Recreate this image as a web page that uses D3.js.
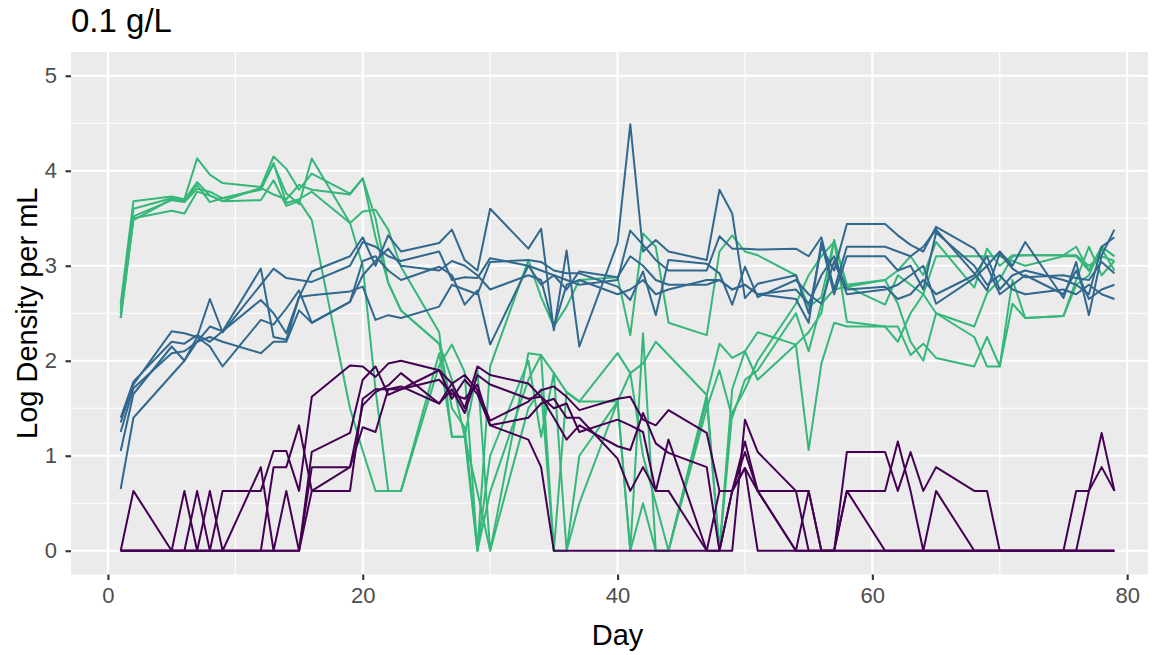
<!DOCTYPE html>
<html>
<head>
<meta charset="utf-8">
<script src="https://cdn.jsdelivr.net/npm/d3@7"></script>
<style>
  body { margin: 0; background: #ffffff; }
  text { font-family: "Liberation Sans", Arial, Helvetica, sans-serif; }
</style>
</head>
<body>
<div id="chart-area"></div>
<script>
// sampling days (weekdays)
var days = [1, 2, 5, 6, 7, 8, 9, 12, 13, 14, 15, 16, 19, 20, 21, 22, 23, 26, 27, 28, 29, 30,
            33, 34, 35, 36, 37, 40, 41, 42, 43, 44, 47, 48, 49, 50, 51, 54, 55, 56, 57, 58,
            61, 62, 63, 64, 65, 68, 69, 70, 71, 72, 75, 76, 77, 78, 79];

// green replicates
var green1 = [2.45, 3.50, 3.58, 3.55, 3.78, 3.74, 3.68, 3.69, 3.90, 3.63, 3.68, 3.48, 1.50, 1.05, 0.63, 0.63, 0.63,
              1.95, 2.17, 1.88, 0, 1.94, 3.06, 2.67, 2.36, 2.57, 2.85, 2.88, 2.27, 3.34, 3.20, 2.40, 2.27, 3.15,
              3.32, 3.15, 3.11, 2.90, 2.57, 2.67, 3.27, 2.78, 2.59, 2.90, 2.80, 2.70, 3.10, 3.10, 3.10, 3.10,
              3.05, 3.00, 3.10, 3.10, 2.95, 3.20, 3.10];
var green2 = [2.55, 3.52, 3.69, 3.67, 3.81, 3.78, 3.71, 3.80, 4.08, 3.66, 3.70, 3.78, 3.45, 3.00, 1.70, 0.63, 0.63,
              2.08, 1.20, 1.20, 0, 0.62, 1.80, 2.06, 1.87, 1.67, 1.57, 2.08, 1.87, 1.97, 2.20, 2.06, 1.64, 2.18,
              2.03, 2.10, 1.80, 2.17, 1.06, 1.97, 2.40, 2.36, 2.36, 2.36, 2.06, 2.18, 2.03, 1.94, 2.25, 1.94,
              2.85, 2.45, 2.47, 2.80, 2.90, 3.20, 3.10];
var green3 = [2.60, 3.68, 3.73, 3.70, 4.13, 3.96, 3.87, 3.83, 4.15, 4.02, 3.80, 3.97, 3.76, 3.92, 3.30, 2.82, 2.53,
              2.18, 1.80, 1.20, 0.62, 0, 1.50, 1.70, 0, 1.67, 1.57, 1.57, 0, 2.29, 0, 0, 1.59, 0,
              1.45, 1.70, 2.00, 2.60, 2.90, 3.10, 3.25, 2.80, 2.85, 2.95, 3.10, 2.90, 3.25, 2.77, 3.18, 3.00,
              3.11, 3.11, 3.11, 3.20, 2.95, 3.18, 2.95];
var green4 = [2.50, 3.60, 3.71, 3.68, 3.85, 3.67, 3.71, 3.81, 4.07, 3.76, 3.65, 4.13, 3.45, 3.57, 3.59, 3.38, 2.99,
              2.30, 1.20, 1.20, 1.90, 0, 2.08, 2.06, 0, 0, 1.00, 1.57, 0, 0.50, 0, 0, 1.64, 0,
              1.70, 2.10, 2.30, 2.17, 2.30, 2.50, 3.27, 2.41, 2.36, 2.20, 2.50, 2.70, 2.50, 2.36, 2.71, 2.85,
              3.10, 3.11, 3.11, 3.11, 3.00, 3.10, 3.05];
var green5 = [2.45, 3.48, 3.70, 3.69, 3.88, 3.74, 3.68, 3.82, 3.75, 3.70, 3.85, 3.80, 3.75, 3.92, 3.50, 2.82, 2.53,
              2.18, 1.50, 1.30, 0, 1.00, 2.00, 1.20, 1.87, 0, 0.50, 1.57, 1.87, 1.00, 0.50, 0, 1.50, 1.90,
              1.40, 1.80, 1.90, 2.50, 2.10, 2.60, 2.75, 2.78, 2.85, 2.60, 2.20, 2.00, 2.50, 2.25, 1.94, 1.94,
              2.60, 2.45, 2.47, 2.85, 3.20, 2.90, 3.05];

// blue replicates
var blue1 = [1.40, 1.78, 2.20, 2.18, 2.27, 2.20, 2.31, 2.97, 2.25, 2.22, 2.67, 2.94, 3.10, 3.30, 3.00, 3.32, 3.15,
             3.24, 3.38, 3.06, 2.95, 3.60, 3.18, 3.39, 2.32, 3.16, 2.15, 3.24, 4.49, 3.15, 3.27, 3.15, 3.06, 3.80,
             3.55, 2.66, 2.81, 2.90, 2.50, 3.20, 2.95, 3.44, 3.44, 3.32, 3.22, 3.15, 3.41, 3.18, 3.00, 3.15,
             3.00, 3.25, 2.66, 3.04, 2.48, 3.11, 3.38];
var blue2 = [1.35, 1.75, 2.31, 2.29, 2.25, 2.65, 2.30, 2.80, 2.97, 2.87, 2.85, 2.83, 3.00, 3.25, 3.20, 3.10, 3.05,
             3.15, 2.85, 2.88, 2.87, 3.08, 3.00, 2.95, 2.90, 2.85, 2.80, 2.85, 3.37, 3.22, 3.06, 2.95, 2.95, 3.31,
             3.18, 3.18, 3.17, 3.18, 3.10, 3.30, 2.75, 3.20, 3.20, 3.15, 3.10, 3.20, 3.38, 2.92, 2.74, 3.13,
             2.97, 2.88, 2.90, 2.87, 2.85, 3.04, 2.92];
var blue3 = [1.25, 1.71, 2.08, 2.10, 2.20, 2.36, 2.31, 2.64, 2.50, 2.29, 2.67, 2.69, 2.73, 2.78, 2.43, 2.48, 2.45,
             2.57, 2.80, 2.75, 2.70, 3.04, 3.06, 3.04, 2.95, 2.92, 2.92, 2.78, 2.64, 2.94, 2.48, 3.06, 3.02, 2.92,
             2.59, 2.99, 2.67, 2.85, 2.70, 2.60, 3.05, 2.70, 2.75, 2.80, 2.90, 3.00, 2.60, 2.87, 3.00, 2.70,
             2.80, 2.90, 2.70, 2.95, 2.65, 2.75, 2.80];
var blue4 = [1.05, 1.65, 2.15, 2.00, 2.25, 2.15, 1.94, 2.43, 2.38, 2.55, 2.74, 2.40, 2.62, 3.05, 3.10, 2.95, 2.85,
             2.99, 2.90, 2.59, 2.74, 2.17, 3.00, 2.80, 2.90, 2.75, 2.94, 2.88, 3.10, 3.00, 2.85, 2.80, 2.80, 2.85,
             2.75, 2.80, 2.70, 2.65, 2.40, 3.25, 2.70, 3.10, 3.10, 2.95, 3.00, 2.75, 3.35, 3.00, 2.80, 2.90,
             2.75, 2.70, 2.75, 2.70, 2.80, 2.70, 2.65];
var blue5 = [0.65, 1.40, 1.85, 2.00, 2.20, 2.25, 2.20, 2.08, 2.20, 2.20, 2.53, 2.40, 2.62, 2.90, 3.05, 3.18, 3.00,
             2.95, 3.05, 3.00, 2.90, 2.75, 2.90, 2.85, 2.35, 2.80, 2.85, 2.70, 2.75, 2.85, 2.70, 2.75, 2.85, 2.85,
             2.75, 2.80, 2.70, 2.75, 2.60, 2.90, 3.10, 2.75, 2.78, 2.65, 2.70, 2.85, 2.70, 2.90, 3.10, 2.75,
             2.90, 2.95, 2.85, 2.80, 2.70, 3.20, 3.30];

// purple replicates
var purple1 = [0, 0.63, 0, 0, 0, 0, 0.63, 0.63, 1.05, 1.05, 0.63, 1.62, 1.95, 1.94, 1.83, 1.97, 2.00,
               1.90, 1.76, 1.50, 1.94, 1.85, 1.76, 1.62, 1.40, 1.17, 1.32, 1.10, 1.06, 1.45, 1.13, 1.03, 0.88, 0,
               0, 1.38, 1.04, 0.63, 0, 0, 0, 1.04, 1.04, 0.63, 1.04, 0.63, 0.88, 0.63, 0.63, 0,
               0, 0, 0, 0.63, 0.63, 1.24, 0.63];
var purple2 = [0, 0, 0, 0.63, 0, 0, 0, 0, 0.88, 0.88, 1.32, 0.63, 0.88, 1.53, 1.67, 1.74, 1.87,
               1.55, 1.76, 1.85, 1.69, 1.37, 1.57, 1.69, 1.73, 1.62, 1.48, 1.60, 1.62, 1.38, 1.32, 1.48, 1.24, 0.63,
               0.63, 1.15, 0.63, 0.63, 0.63, 0, 0, 0.63, 0.63, 1.15, 0.63, 0, 0.63, 0, 0, 0,
               0, 0, 0, 0, 0.63, 0.88, 0.63];
var purple3 = [0, 0, 0, 0, 0.63, 0, 0, 0.88, 0, 0.63, 0, 1.04, 1.24, 1.80, 1.94, 1.64, 1.70,
               1.90, 1.60, 1.80, 1.65, 1.32, 1.17, 0.88, 0, 0, 0, 0, 0, 0, 0, 0, 0, 0,
               0.63, 1.04, 0.63, 0, 0.63, 0, 0, 0.63, 0, 0, 0, 0, 0, 0, 0, 0,
               0, 0, 0, 0, 0, 0, 0];
var purple4 = [0, 0, 0, 0, 0, 0.63, 0, 0, 0, 0, 0, 0.88, 0.88, 1.30, 1.25, 1.70, 1.73,
               1.55, 1.70, 1.45, 1.85, 1.75, 1.60, 1.62, 1.50, 1.55, 1.25, 1.38, 1.32, 1.25, 0.63, 1.17, 0, 0,
               0.63, 0.87, 0, 0, 0, 0, 0, 0, 0, 0, 0, 0, 0, 0, 0, 0,
               0, 0, 0, 0, 0, 0, 0];
var purple5 = [0, 0, 0, 0, 0, 0, 0, 0, 0, 0, 0, 0.63, 0.63, 1.60, 1.70, 1.70, 1.70,
               1.80, 1.65, 1.60, 1.75, 1.32, 1.40, 1.55, 1.60, 1.40, 1.40, 0.97, 0.63, 0.88, 0.63, 0.63, 0, 0.63,
               0.63, 0.87, 0.63, 0, 0, 0, 0, 0, 0, 0, 0, 0, 0, 0, 0, 0,
               0, 0, 0, 0, 0, 0, 0];

var xTicks = [0, 20, 40, 60, 80];
var yTicks = [0, 1, 2, 3, 4, 5];

var groups = [
  { color: "#35b779", lines: [green1, green2, green3, green4, green5] },
  { color: "#31688e", lines: [blue1, blue2, blue3, blue4, blue5] },
  { color: "#440154", lines: [purple1, purple2, purple3, purple4, purple5] }
];

var width = 1156, height = 655;
var panel = { left: 71, right: 1148, top: 52, bottom: 574.5 };
var fullRight = panel.left + (82.9 + 2.9) * 12.74;

var svg = d3.select("#chart-area").append("svg")
    .attr("width", width)
    .attr("height", height);

var x = d3.scaleLinear()
    .domain([-2.9, 82.9])
    .range([panel.left, fullRight]);

var y = d3.scaleLinear()
    .domain([-0.25, 5.25])
    .range([panel.bottom, panel.top]);

svg.append("defs").append("clipPath")
    .attr("id", "panel-clip")
    .append("rect")
    .attr("x", panel.left)
    .attr("y", panel.top)
    .attr("width", panel.right - panel.left)
    .attr("height", panel.bottom - panel.top);

// panel background
svg.append("rect")
    .attr("x", panel.left)
    .attr("y", panel.top)
    .attr("width", panel.right - panel.left)
    .attr("height", panel.bottom - panel.top)
    .attr("fill", "#ebebeb");

var grid = svg.append("g").attr("clip-path", "url(#panel-clip)");

// minor grid
[10, 30, 50, 70].forEach(function(d) {
  grid.append("line")
      .attr("x1", x(d)).attr("x2", x(d))
      .attr("y1", panel.top).attr("y2", panel.bottom)
      .attr("stroke", "#ffffff").attr("stroke-width", 1.1);
});
[0.5, 1.5, 2.5, 3.5, 4.5].forEach(function(d) {
  grid.append("line")
      .attr("x1", panel.left).attr("x2", panel.right)
      .attr("y1", y(d)).attr("y2", y(d))
      .attr("stroke", "#ffffff").attr("stroke-width", 1.1);
});

// major grid
xTicks.forEach(function(d) {
  grid.append("line")
      .attr("x1", x(d)).attr("x2", x(d))
      .attr("y1", panel.top).attr("y2", panel.bottom)
      .attr("stroke", "#ffffff").attr("stroke-width", 2.1);
});
yTicks.forEach(function(d) {
  grid.append("line")
      .attr("x1", panel.left).attr("x2", panel.right)
      .attr("y1", y(d)).attr("y2", y(d))
      .attr("stroke", "#ffffff").attr("stroke-width", 2.1);
});

// data lines
var line = d3.line()
    .x(function(d, i) { return x(days[i]); })
    .y(function(d) { return y(d); });

var plot = svg.append("g").attr("clip-path", "url(#panel-clip)");
groups.forEach(function(g) {
  g.lines.forEach(function(vals) {
    plot.append("path")
        .datum(vals)
        .attr("d", line)
        .attr("fill", "none")
        .attr("stroke", g.color)
        .attr("stroke-width", 2)
        .attr("stroke-linejoin", "round");
  });
});

// axes
var xAxis = svg.append("g")
    .attr("transform", "translate(0," + panel.bottom + ")")
    .call(d3.axisBottom(x).tickValues(xTicks).tickFormat(d3.format("d")).tickSize(5.5).tickPadding(7));
var yAxis = svg.append("g")
    .attr("transform", "translate(" + panel.left + ",0)")
    .call(d3.axisLeft(y).tickValues(yTicks).tickFormat(d3.format("d")).tickSize(5.5).tickPadding(8.5));

[xAxis, yAxis].forEach(function(a) {
  a.select(".domain").remove();
  a.selectAll(".tick line").attr("stroke", "#333333").attr("stroke-width", 2.1);
  a.selectAll(".tick text")
      .attr("fill", "#4d4d4d")
      .attr("font-size", "22px")
      .attr("font-family", "Liberation Sans, Arial, sans-serif");
});

// axis titles
svg.append("text")
    .attr("x", (panel.left + fullRight) / 2)
    .attr("y", 645)
    .attr("text-anchor", "middle")
    .attr("font-size", "29px")
    .attr("fill", "#000000")
    .text("Day");

svg.append("text")
    .attr("transform", "translate(37," + ((panel.top + panel.bottom) / 2) + ") rotate(-90)")
    .attr("text-anchor", "middle")
    .attr("font-size", "29px")
    .attr("fill", "#000000")
    .text("Log Density per mL");

// title
svg.append("text")
    .attr("x", 71)
    .attr("y", 32)
    .attr("font-size", "33px")
    .attr("fill", "#000000")
    .text("0.1 g/L");
</script>
</body>
</html>
